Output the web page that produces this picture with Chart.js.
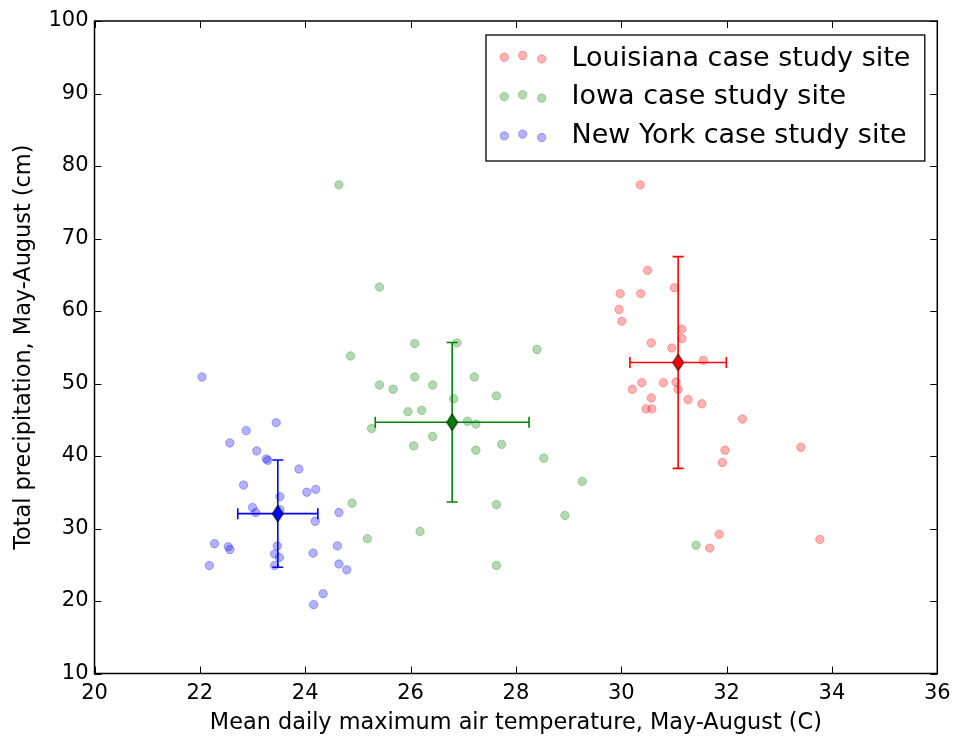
<!DOCTYPE html>
<html>
<head>
<meta charset="utf-8">
<script src="https://cdn.jsdelivr.net/npm/chart.js@4.4.1/dist/chart.umd.min.js"></script>
<style>
  html, body { margin: 0; padding: 0; background: #fff; }
</style>
</head>
<body>
<canvas id="chart" width="954" height="742"></canvas>
<script>
// site names + colours (matplotlib classic r / g / b)
let sites = ["Louisiana case study site", "Iowa case study site", "New York case study site"];
let siteColors = [[255, 0, 0], [0, 128, 0], [0, 0, 255]];

// yearly values
let laTemp = [30.36, 30.50, 29.98, 30.37, 31.01, 29.96, 30.01, 31.15, 31.15, 30.57,
              30.96, 31.56, 30.39, 30.21, 30.80, 31.04, 31.08, 30.57, 31.27, 31.53,
              30.47, 30.58, 32.30, 31.97, 31.92, 33.41, 31.86, 31.68, 33.77];
let laPrecip = [77.4, 65.6, 62.4, 62.4, 63.2, 60.2, 58.6, 57.5, 56.2, 55.6,
                54.9, 53.2, 50.1, 49.2, 50.1, 50.2, 49.2, 48.0, 47.8, 47.2,
                46.5, 46.5, 45.1, 40.8, 39.1, 41.2, 29.2, 27.3, 28.5];

let iaTemp = [24.64, 25.41, 26.08, 26.88, 24.86, 28.40, 26.08, 27.21, 25.41, 25.67,
              26.42, 26.82, 27.63, 25.95, 26.21, 27.08, 27.24, 25.26, 26.42, 26.06,
              27.24, 27.73, 28.53, 29.26, 24.89, 27.63, 28.93, 26.18, 25.18, 27.63, 31.42];
let iaPrecip = [77.4, 63.3, 55.5, 55.6, 53.8, 54.7, 50.9, 50.9, 49.8, 49.2,
                49.8, 47.9, 48.3, 46.1, 46.3, 44.8, 44.4, 43.8, 42.7, 41.4,
                40.8, 41.6, 39.7, 36.5, 33.5, 33.3, 31.8, 29.6, 28.6, 24.9, 27.7];

let nyTemp = [22.04, 23.45, 22.88, 22.57, 23.08, 23.26, 23.29, 23.88, 22.83, 24.03,
              24.20, 23.52, 23.00, 23.06, 23.52, 24.64, 24.19, 22.28, 22.54, 22.57,
              23.47, 23.42, 23.51, 23.42, 24.15, 24.61, 24.64, 24.79, 22.18, 24.34, 24.16];
let nyPrecip = [50.9, 44.6, 43.5, 41.8, 40.7, 39.6, 39.4, 38.2, 36.0, 35.0,
                35.4, 34.4, 32.9, 32.2, 32.6, 32.2, 31.0, 27.9, 27.5, 27.1,
                27.6, 26.5, 26.0, 24.9, 26.6, 27.6, 25.1, 24.3, 24.9, 21.0, 19.5];

// site means and their spread (LA, IA, NY)
let meanTemp = [31.08, 26.79, 23.48];
let meanPrecip = [52.9, 44.65, 32.05];
let errTemp = [0.915, 1.46, 0.76];
let errPrecip = [14.6, 11.0, 7.4];

let xTicks = [20, 22, 24, 26, 28, 30, 32, 34, 36];
let yTicks = [10, 20, 30, 40, 50, 60, 70, 80, 90, 100];

let temps = [laTemp, iaTemp, nyTemp];
let precips = [laPrecip, iaPrecip, nyPrecip];

function rgba(c, a) {
    return "rgba(" + c[0] + "," + c[1] + "," + c[2] + "," + a + ")";
}

// thin diamond ('d' marker) as a point image
function diamond(c) {
    let cv = document.createElement("canvas");
    cv.width = 13; cv.height = 18;
    let g = cv.getContext("2d");
    g.beginPath();
    g.moveTo(6.5, 0.8); g.lineTo(12, 9); g.lineTo(6.5, 17.2); g.lineTo(1, 9);
    g.closePath();
    g.fillStyle = rgba(c, 1);
    g.fill();
    g.strokeStyle = "#000";
    g.lineWidth = 1;
    g.stroke();
    return cv;
}

Chart.defaults.font.family = "'DejaVu Sans', sans-serif";
Chart.defaults.color = "#000";

let datasets = [];

for (let i = 0; i < 3; i++) {
    let c = siteColors[i];
    // mean marker on top
    datasets.push({
        label: sites[i] + " mean",
        data: [{x: meanTemp[i], y: meanPrecip[i]}],
        pointStyle: diamond(c),
        order: 0
    });
    // vertical error bar, horizontal caps
    datasets.push({
        data: [{x: meanTemp[i], y: meanPrecip[i] - errPrecip[i]},
               {x: meanTemp[i], y: meanPrecip[i] + errPrecip[i]}],
        showLine: true,
        borderColor: rgba(c, 1),
        borderWidth: 1.6,
        pointStyle: "line",
        pointRadius: 5.5,
        pointBorderColor: rgba(c, 1),
        pointBorderWidth: 1.6,
        order: 1
    });
    // horizontal error bar, vertical caps
    datasets.push({
        data: [{x: meanTemp[i] - errTemp[i], y: meanPrecip[i]},
               {x: meanTemp[i] + errTemp[i], y: meanPrecip[i]}],
        showLine: true,
        borderColor: rgba(c, 1),
        borderWidth: 1.6,
        pointStyle: "line",
        pointRotation: 90,
        pointRadius: 5.5,
        pointBorderColor: rgba(c, 1),
        pointBorderWidth: 1.6,
        order: 1
    });
    // the yearly scatter
    datasets.push({
        label: sites[i],
        data: temps[i].map((t, k) => ({x: t, y: precips[i][k]})),
        pointRadius: 4.2,
        backgroundColor: rgba(c, 0.3),
        borderColor: rgba(c, 0.3),
        borderWidth: 1,
        order: 2
    });
}

// box, inward ticks on all four sides, legend in the top right
const frameAndLegend = {
    id: "frameAndLegend",
    afterDraw(chart) {
        let ctx = chart.ctx;
        let a = chart.chartArea;
        let sx = chart.scales.x, sy = chart.scales.y;
        ctx.save();
        ctx.strokeStyle = "#000";
        ctx.lineWidth = 1;
        ctx.beginPath();
        xTicks.forEach(v => {
            let p = Math.round(sx.getPixelForValue(v)) + 0.5;
            ctx.moveTo(p, a.bottom); ctx.lineTo(p, a.bottom - 7);
            ctx.moveTo(p, a.top); ctx.lineTo(p, a.top + 7);
        });
        yTicks.forEach(v => {
            let p = Math.round(sy.getPixelForValue(v)) + 0.5;
            ctx.moveTo(a.left, p); ctx.lineTo(a.left + 7, p);
            ctx.moveTo(a.right, p); ctx.lineTo(a.right - 7, p);
        });
        ctx.stroke();
        ctx.lineWidth = 1.5;
        ctx.strokeRect(a.left, a.top, a.right - a.left, a.bottom - a.top);

        // legend
        let bx = a.right - 12.5, by = a.top + 14;
        let lx = 486, lw = bx - lx, lh = 126;
        ctx.fillStyle = "#fff";
        ctx.fillRect(lx, by, lw, lh);
        ctx.lineWidth = 1.3;
        ctx.strokeRect(lx, by, lw, lh);
        let dotX = [504.3, 522.7, 541.7];
        let dotDy = [0, -1.8, 1.6];
        ctx.font = "27px 'DejaVu Sans'";
        ctx.textBaseline = "alphabetic";
        for (let i = 0; i < 3; i++) {
            let c = siteColors[i];
            let cy = by + 22.3 + i * 39.3;
            for (let k = 0; k < 3; k++) {
                ctx.beginPath();
                ctx.arc(dotX[k], cy + dotDy[k], 4.2, 0, Math.PI * 2);
                ctx.fillStyle = rgba(c, 0.3);
                ctx.fill();
                ctx.strokeStyle = rgba(c, 0.3);
                ctx.lineWidth = 1;
                ctx.stroke();
            }
            ctx.fillStyle = "#000";
            ctx.fillText(sites[i], 571.5, by + 30.5 + i * 38.7);
        }
        ctx.restore();
    }
};

new Chart(document.getElementById("chart"), {
    type: "scatter",
    data: { datasets: datasets },
    options: {
        responsive: false,
        animation: false,
        devicePixelRatio: 1,
        layout: { padding: { top: 21, right: 16.7, left: 0, bottom: 0 } },
        plugins: {
            legend: { display: false },
            tooltip: { enabled: false }
        },
        scales: {
            x: {
                type: "linear",
                min: 20, max: 36,
                afterBuildTicks: s => { s.ticks = xTicks.map(v => ({value: v})); },
                afterFit: s => { s.height = 68.5; s.paddingLeft = 0; s.paddingRight = 0; },
                grid: { display: false, drawTicks: false },
                border: { display: false },
                ticks: { font: { size: 21 }, padding: 7, maxRotation: 0 },
                title: {
                    display: true,
                    text: "Mean daily maximum air temperature, May-August (C)",
                    font: { size: 22.4 },
                    padding: { top: 0, bottom: 5 }
                }
            },
            y: {
                type: "linear",
                min: 10, max: 100,
                afterBuildTicks: s => { s.ticks = yTicks.map(v => ({value: v})); },
                afterFit: s => { s.width = 94.5; s.paddingTop = 0; s.paddingBottom = 0; },
                grid: { display: false, drawTicks: false },
                border: { display: false },
                ticks: { font: { size: 21 }, padding: 6 },
                title: {
                    display: true,
                    text: "Total precipitation, May-August (cm)",
                    font: { size: 22.4 },
                    padding: { top: 10.5, bottom: 0 }
                }
            }
        }
    },
    plugins: [frameAndLegend]
});
</script>
</body>
</html>
